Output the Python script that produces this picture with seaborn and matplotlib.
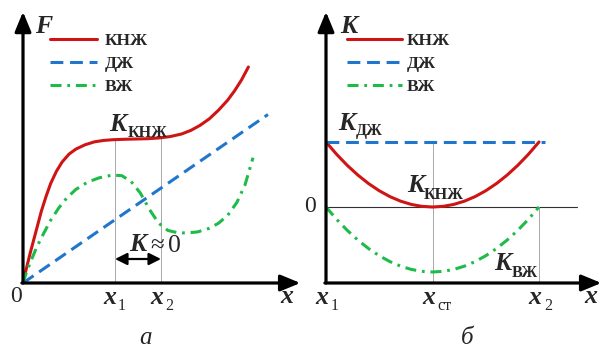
import numpy as np
import pandas as pd
import matplotlib
matplotlib.use("Agg")
import matplotlib.pyplot as plt
import seaborn as sns

# ---------------- data ----------------
# panel a: F(x)
red_a_x = [0, 0.1, 0.2, 0.3, 0.45, 0.6, 0.8, 1.0, 1.2, 1.45, 1.7, 2.0, 2.3, 2.7, 3.1,
           3.5, 3.9, 4.4, 4.9, 5.4, 5.9, 6.4, 6.9, 7.3, 7.7, 8.1, 8.5, 8.9, 9.2, 9.5, 9.8]
red_a_y = [0, 0.7, 1.35, 2.0, 2.9, 3.8, 5.0, 6.0, 6.9, 7.75, 8.4, 8.95, 9.3, 9.6, 9.8,
           9.9, 9.95, 9.98, 10.0, 10.02, 10.07, 10.17, 10.35, 10.6, 10.95, 11.4, 12.0,
           12.7, 13.35, 14.1, 15.0]
blue_a_x = [0, 10.65]
blue_a_y = [0, 11.7]
green_a_x = [0, 0.15, 0.35, 0.6, 0.9, 1.2, 1.55, 1.9, 2.3, 2.8, 3.3, 3.9, 4.3, 4.7,
             5.1, 5.5, 5.9, 6.3, 6.7, 7.1, 7.6, 8.1, 8.5, 8.9, 9.3, 9.65, 10.0]
green_a_y = [0, 0.75, 1.55, 2.5, 3.45, 4.35, 5.2, 5.9, 6.5, 7.0, 7.3, 7.5, 7.45, 7.05,
             6.25, 5.1, 4.15, 3.65, 3.5, 3.47, 3.55, 3.8, 4.15, 4.7, 5.6, 6.8, 8.7]
x1_a, x2_a = 4.0, 6.0

# panel b: K(x)
xb = [0, 0.05, 0.1, 0.15, 0.2, 0.25, 0.3, 0.35, 0.4, 0.45, 0.5, 0.55, 0.6, 0.65, 0.7,
      0.75, 0.8, 0.85, 0.9, 0.95, 1.0]
red_b = [1.0, 0.81, 0.64, 0.49, 0.36, 0.25, 0.16, 0.09, 0.04, 0.01, 0.0, 0.01, 0.04,
         0.09, 0.16, 0.25, 0.36, 0.49, 0.64, 0.81, 1.0]
green_b = [0.0, -0.19, -0.36, -0.51, -0.64, -0.75, -0.84, -0.91, -0.96, -0.99, -1.0,
           -0.99, -0.96, -0.91, -0.84, -0.75, -0.64, -0.51, -0.36, -0.19, 0.0]
blue_b_x = [0, 1.03]
blue_b_y = [1.0, 1.0]
xst_b = 0.5

labels = ["КНЖ", "ДЖ", "ВЖ"]

# ---------------- style ----------------
sns.set_style("white")
plt.rcParams["font.family"] = ["Liberation Serif", "DejaVu Serif"]

RED = "#cf1414"
BLUE = "#1f76cc"
GREEN = "#1fbb48"
LW = 2.2
DASH = (0, (4.2, 2.2))
DASHDOT = (0, (3.6, 1.9, 0.9, 1.9))

W, H = 603, 351
fig = plt.figure(figsize=(W / 100, H / 100), dpi=100)


def ftext(px, py, s, **kw):
    kw.setdefault("va", "baseline")
    kw.setdefault("ha", "left")
    fig.text(px / W, 1 - py / H, s, **kw)


MAIN = 18.5
SUB = 11.5


def label(px, py, main, sub=None, spx=None, spy=None, sub_bold=True):
    ftext(px, py, main, fontsize=MAIN, style="italic", weight="bold")
    if sub:
        ftext(spx, spy, sub, fontsize=SUB, weight="bold" if sub_bold else "normal")


axA = fig.add_axes([23 / W, 68 / H, 276 / W, 268 / H])
axB = fig.add_axes([326 / W, 68 / H, 274 / W, 268 / H])

for ax in (axA, axB):
    for s in ax.spines.values():
        s.set_visible(False)
    ax.set_xticks([])
    ax.set_yticks([])
    ax.set_facecolor("none")

axA.set_xlim(0, 12)
axA.set_ylim(0, 268 / 14.4)
axB.set_xlim(0, 274 / 213)
axB.set_ylim(-76 / 65, 192 / 65)

# ---- guides panel a ----
for xv in (x1_a, x2_a):
    top = np.interp(xv, red_a_x, red_a_y)
    axA.plot([xv, xv], [0, top], color="#a8a8a8", lw=0.7, zorder=1)

# ---- curves panel a ----
dfa_r = pd.DataFrame({"x": red_a_x, "y": red_a_y})
dfa_b = pd.DataFrame({"x": blue_a_x, "y": blue_a_y})
dfa_g = pd.DataFrame({"x": green_a_x, "y": green_a_y})
sns.lineplot(data=dfa_r, x="x", y="y", ax=axA, color=RED, lw=LW, sort=False,
             label=labels[0], zorder=3)
sns.lineplot(data=dfa_b, x="x", y="y", ax=axA, color=BLUE, lw=LW, sort=False,
             linestyle=DASH, label=labels[1], zorder=3)
sns.lineplot(data=dfa_g, x="x", y="y", ax=axA, color=GREEN, lw=LW, sort=False,
             linestyle=DASHDOT, label=labels[2], zorder=3)
axA.set_xlabel("")
axA.set_ylabel("")

# ---- guides panel b ----
axB.plot([0, 251 / 213], [0, 0], color="#303030", lw=0.8, zorder=1)
axB.plot([xst_b, xst_b], [axB.get_ylim()[0], 1.0], color="#a8a8a8", lw=0.7, zorder=1)
axB.plot([1.0, 1.0], [axB.get_ylim()[0], 0], color="#a8a8a8", lw=0.7, zorder=1)

dfb_r = pd.DataFrame({"x": xb, "y": red_b})
dfb_g = pd.DataFrame({"x": xb, "y": green_b})
dfb_b = pd.DataFrame({"x": blue_b_x, "y": blue_b_y})
sns.lineplot(data=dfb_r, x="x", y="y", ax=axB, color=RED, lw=LW, sort=False,
             label=labels[0], zorder=3)
sns.lineplot(data=dfb_b, x="x", y="y", ax=axB, color=BLUE, lw=LW, sort=False,
             linestyle=DASH, label=labels[1], zorder=3)
sns.lineplot(data=dfb_g, x="x", y="y", ax=axB, color=GREEN, lw=LW, sort=False,
             linestyle=DASHDOT, label=labels[2], zorder=3)
axB.set_xlabel("")
axB.set_ylabel("")

# ---- legends ----
for ax, lx, hl, pad in ((axA, 50, 2.7, 0.46), (axB, 347, 3.15, 0.3)):
    pos = ax.get_position()
    leg = ax.legend(loc="upper left",
                    bbox_to_anchor=((lx - pos.x0 * W) / (pos.width * W),
                                    (283 - 33) / 268),
                    frameon=False, handlelength=hl, handletextpad=pad,
                    labelspacing=0.38, borderaxespad=0, borderpad=0,
                    prop={"weight": "bold", "size": 12.5})

# ---- axes arrows ----
ap = dict(arrowstyle="-|>,head_length=0.8,head_width=0.33", lw=2.3, color="black",
          shrinkA=0, shrinkB=0, mutation_scale=15)
for ax in (axA, axB):
    ax.annotate("", xy=(0, 1.012), xytext=(0, 0), xycoords="axes fraction",
                textcoords="axes fraction", arrowprops=ap, annotation_clip=False)
    ax.annotate("", xy=(1.005, 0), xytext=(-0.004, 0), xycoords="axes fraction",
                textcoords="axes fraction", arrowprops=ap, annotation_clip=False)

# double arrow K≈0
yarr = (283 - 259) / 14.4
axA.annotate("", xy=(x2_a, yarr), xytext=(x1_a, yarr),
             arrowprops=dict(arrowstyle="<|-|>,head_length=0.6,head_width=0.3",
                             lw=1.6, color="black", shrinkA=0, shrinkB=0,
                             mutation_scale=12))

# ---------------- texts ----------------
label(35, 33, "F")
label(340, 33, "K")

label(109, 131, "K", "КНЖ", 128, 137)
label(129, 251, "K")
ftext(157, 252, "≈", fontsize=18, ha="center")
ftext(168, 252, "0", fontsize=MAIN)

ftext(16, 297, "0", fontsize=17, ha="center", va="center")
label(103, 304, "x", "1", 118, 310, sub_bold=False)
label(150, 304, "x", "2", 165, 310, sub_bold=False)
label(280, 303, "x")
ftext(145, 344, "а", fontsize=18, style="italic", ha="center")

ftext(310, 207, "0", fontsize=17, ha="center", va="center")
label(338, 130, "K", "ДЖ", 356, 135)
label(407, 192, "K", "КНЖ", 424, 199)
label(494, 270, "K", "ВЖ", 512, 277)
label(315, 304, "x", "1", 331, 310, sub_bold=False)
label(422, 304, "x", "ст", 437, 310, sub_bold=False)
label(528, 304, "x", "2", 544, 310, sub_bold=False)
label(584, 303, "x")
ftext(467, 344, "б", fontsize=18, style="italic", ha="center")

fig.savefig("out.png", dpi=100)
